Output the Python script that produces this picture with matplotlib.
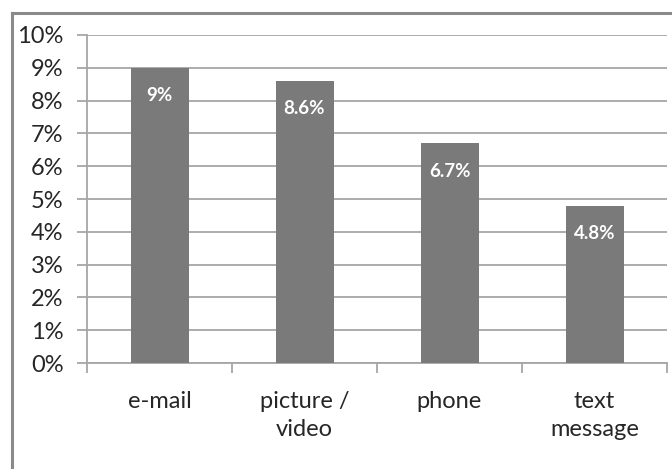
import matplotlib
matplotlib.use("Agg")
import matplotlib.pyplot as plt
from matplotlib.lines import Line2D
import numpy as np

categories = ["e-mail", "picture /\nvideo", "phone", "text\nmessage"]
values = [9.0, 8.6, 6.7, 4.8]
value_labels = ["9%", "8.6%", "6.7%", "4.8%"]
y_ticks = list(range(0, 11))

plt.rcParams['font.family'] = ['Lato', 'DejaVu Sans']

fig = plt.figure(figsize=(6.72, 4.69), dpi=100)
ax = fig.add_axes([87 / 672, 1 - 363 / 469, 580 / 672, 328 / 469])

grid_c = "#a6a6a6"
x = np.arange(len(categories))
ax.bar(x, values, width=0.4, color="#7a7a7a", zorder=3)

for xi, v, lab in zip(x, values, value_labels):
    ax.annotate(lab, (xi, v), xytext=(0, -20), textcoords="offset points",
                ha="center", va="center", color="white", fontsize=13.5,
                fontweight="bold", zorder=4)

ax.set_xlim(-0.5, len(categories) - 0.5)
ax.set_ylim(0, 10)
ax.set_yticks(y_ticks)
ax.set_yticklabels([f"{t}%" for t in y_ticks], fontsize=17)
ax.yaxis.grid(True, color=grid_c, linewidth=1.3, zorder=0)

ax.set_xticks(x)
ax.set_xticklabels(categories, fontsize=17, linespacing=1.4)
ax.set_xticks(np.arange(-0.5, len(categories)), minor=True)
ax.tick_params(axis="x", which="major", length=0, pad=20)
ax.tick_params(axis="x", which="minor", length=7, color=grid_c, width=1.3)
ax.tick_params(axis="y", length=7, color=grid_c, width=1.3, pad=10)
for lab in ax.get_xticklabels() + ax.get_yticklabels():
    lab.set_color("#262626")

for s in ["top", "right"]:
    ax.spines[s].set_visible(False)
for s in ["left", "bottom"]:
    ax.spines[s].set_color(grid_c)
    ax.spines[s].set_linewidth(1.3)

# outer chart border (only top and left visible in the crop)
fig.add_artist(Line2D([12 / 672, 12 / 672], [0, 1 - 13 / 469], color="#8a8a8a", linewidth=2.2))
fig.add_artist(Line2D([12 / 672, 1], [1 - 13 / 469, 1 - 13 / 469], color="#8a8a8a", linewidth=2.2))

fig.savefig("out.png", dpi=100)
